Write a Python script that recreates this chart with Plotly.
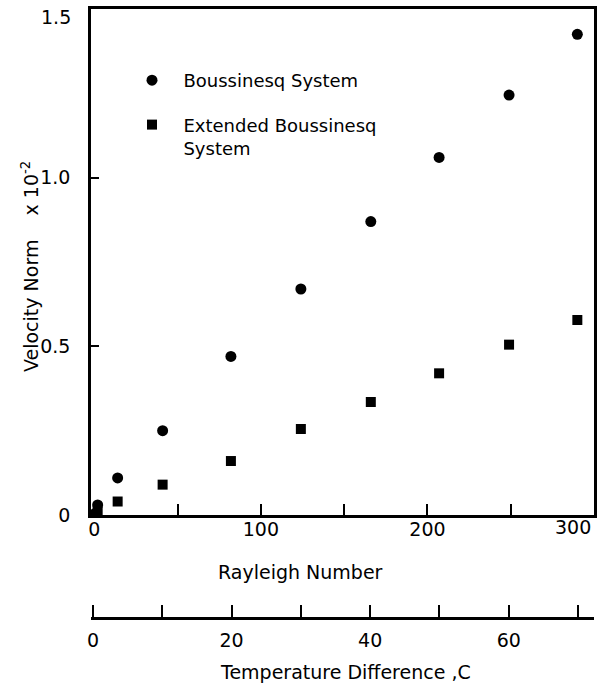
import plotly.graph_objects as go

# ---- data ----
ra_bous = [0.5, 2, 14, 41, 82, 124, 166, 207, 249, 290]
vel_bous = [0.005, 0.03, 0.11, 0.25, 0.47, 0.67, 0.87, 1.06, 1.245, 1.425]
ra_ext = [0, 2, 14, 41, 82, 124, 166, 207, 249, 290]
vel_ext = [0.0, 0.01, 0.04, 0.09, 0.16, 0.255, 0.335, 0.42, 0.505, 0.578]

x_tickvals = [0, 50, 100, 150, 200, 250, 300]
x_ticktext = ["0", "", "100", "", "200", "", ""]
y_tickvals = [0, 0.5, 1.0, 1.5]
y_ticktext = ["0", "0.5", "1.0", ""]
t_tickvals = [0, 10, 20, 30, 40, 50, 60, 70]
t_ticktext = ["0", "", "20", "", "40", "", "60", ""]
x_last_label = "300"
y_top_label = "1.5"

FONT = "DejaVu Sans"
NB = "\u00a0"

fig = go.Figure()
fig.add_trace(go.Scatter(
    x=ra_bous, y=vel_bous, mode="markers",
    name=NB * 2 + "Boussinesq System", legendgroup="a",
    marker=dict(symbol="circle", size=11, color="black"),
))
fig.add_trace(go.Scatter(
    x=ra_ext, y=vel_ext, mode="markers",
    name=NB * 2 + "Extended Boussinesq<br>" + NB * 2 + "System", legendgroup="b",
    marker=dict(symbol="square", size=10, color="black"),
))
# empty trace so the temperature axis is drawn
fig.add_trace(go.Scatter(x=[], y=[], xaxis="x2", showlegend=False))

d = 103 / 609

fig.update_layout(
    width=600, height=689,
    margin=dict(l=91, r=6, t=9, b=71),
    paper_bgcolor="white", plot_bgcolor="white",
    font=dict(family=FONT, size=19, color="black"),
    showlegend=True,
    legend=dict(
        x=(132 - 91) / 503, y=(618 - 62) / 609, xanchor="left", yanchor="top",
        bgcolor="rgba(0,0,0,0)", font=dict(size=18),
        traceorder="grouped", tracegroupgap=18, valign="top",
    ),
    xaxis=dict(
        range=[-2, 300], domain=[0, 1], anchor="y", automargin=False,
        showline=True, linecolor="black", linewidth=2.5, mirror=True,
        ticks="inside", ticklen=11, tickwidth=2, tickcolor="black",
        tickvals=x_tickvals, ticktext=x_ticktext,
        ticklabelstandoff=-5,
        showgrid=False, zeroline=False,
    ),
    yaxis=dict(
        range=[0, 1.5], domain=[d, 1], anchor="x", automargin=False,
        showline=True, linecolor="black", linewidth=2.5, mirror=True,
        ticks="inside", ticklen=8, tickwidth=2, tickcolor="black",
        tickvals=y_tickvals, ticktext=y_ticktext,
        ticklabelstandoff=14,
        showgrid=False, zeroline=False,
    ),
    xaxis2=dict(
        range=[-0.29, 72.3], overlaying="x", anchor="free", position=0,
        side="bottom", automargin=False,
        showline=True, linecolor="black", linewidth=2.5,
        ticks="inside", ticklen=12, tickwidth=2, tickcolor="black",
        tickvals=t_tickvals, ticktext=t_ticktext,
        ticklabelstandoff=4,
        showgrid=False, zeroline=False,
    ),
    annotations=[
        dict(text=x_last_label, xref="x", yref="paper",
             x=x_tickvals[-1], y=d, xanchor="right", yanchor="middle",
             xshift=-1, yshift=-12, showarrow=False, font=dict(size=19)),
        dict(text=y_top_label, xref="paper", yref="y",
             x=0, y=y_tickvals[-1], xanchor="right", yanchor="middle",
             xshift=-18, yshift=-8, showarrow=False, font=dict(size=19)),
        dict(text="Rayleigh Number", xref="paper", yref="paper",
             x=(300 - 91) / 503, y=(618 - 572) / 609,
             xanchor="center", yanchor="middle", showarrow=False,
             font=dict(size=19)),
        dict(text="Temperature Difference ,C", xref="paper", yref="paper",
             x=(345 - 91) / 503, y=(618 - 672) / 609,
             xanchor="center", yanchor="middle", showarrow=False,
             font=dict(size=19)),
        dict(text="Velocity Norm" + NB * 4 + "x 10<sup>-2</sup>",
             xref="paper", yref="paper",
             x=(30 - 91) / 503, y=(618 - 267) / 609,
             xanchor="center", yanchor="middle", showarrow=False,
             textangle=-90, font=dict(size=19)),
    ],
)

fig.write_html("out.html")
